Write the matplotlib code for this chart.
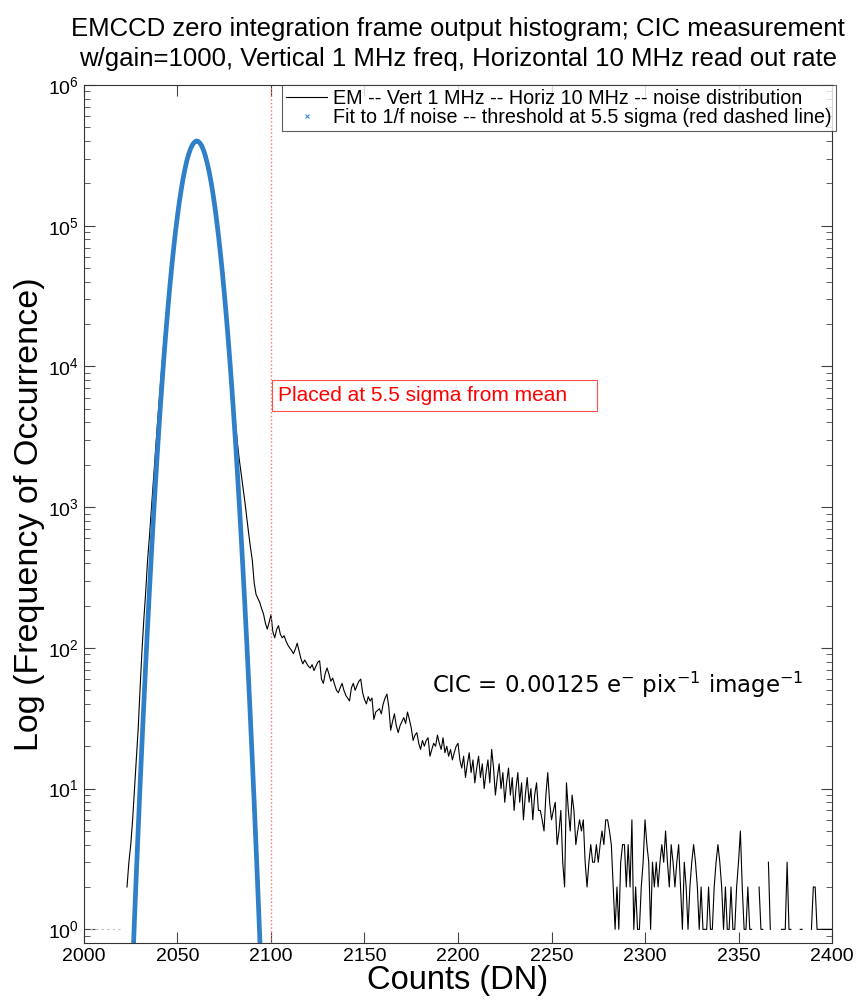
import numpy as np
import matplotlib
matplotlib.use('Agg')
import matplotlib.pyplot as plt
from matplotlib.lines import Line2D
from matplotlib.ticker import NullFormatter

# histogram of the zero-integration frame (counts per DN)
em_start = 2023
em_counts = [
    2, 3, 4, 6, 10, 17, 27, 52, 95, 160,
    250, 420, 620, 960, 1450, 2300, 3500, 5300, 7900, 11500,
    16500, 23000, 32000, 43500, 58000, 76000, 98000, 123000, 152000, 184000,
    218000, 253000, 288000, 320000, 349000, 372000, 388000, 396000, 396000, 386000,
    368000, 343000, 312000, 278000, 243000, 208000, 174000, 142000, 113000, 88000,
    67500, 50500, 37000, 26500, 18700, 13000, 8900, 5500, 4000, 2900,
    2200, 1750, 1400, 1100, 850, 660, 520, 420, 290, 240,
    225, 210, 190, 174, 150, 136, 152, 172, 130, 118,
    135, 144, 125, 118, 122, 112, 105, 100, 96, 91,
    98, 108, 95, 84, 77, 82, 78, 74, 72, 76,
    69, 74, 79, 81, 60, 56, 66, 72, 65, 58,
    61, 55, 50, 48, 52, 56, 50, 46, 44, 42,
    52, 56, 50, 54, 58, 60, 48, 43, 40, 45,
    42, 44, 31, 35, 36, 37, 34, 40, 44, 47,
    38, 26, 30, 34, 28, 25, 28, 30, 32, 29,
    35, 31, 27, 22, 24, 25, 21, 19, 22, 20,
    22, 23, 17, 19, 21, 20, 24, 21, 19, 23,
    18, 20, 17, 19, 16, 18, 20, 21, 16, 14,
    17, 12, 15, 18, 13, 16, 11, 14, 17, 12,
    15, 10, 13, 16, 11, 19, 14, 9, 12, 15,
    10, 13, 8, 11, 14, 9, 12, 7, 10, 13,
    8, 11, 6, 9, 12, 8, 10, 6, 9, 11,
    7, 7, 6, 5, 9, 13, 8, 6, 7, 8,
    4, 5, 7, 3, 2, 11, 7, 5, 9, 7,
    4, 5, 6, 5, 6, 3, 2, 3, 4, 3,
    3, 4, 3, 4, 5, 4, 6, 6, 5, 4,
    2, 1, 2, 1, 3, 4, 4, 2, 4, 2,
    6, 1, 2, 1, 1, 2, 3, 6, 4, 3,
    1, 3, 2, 3, 2, 3, 4, 3, 5, 3,
    2, 4, 3, 2, 3, 4, 2, 1, 3, 2,
    1, 2, 3, 4, 3, 2, 1, 2, 1, 1,
    1, 2, 1, 1, 2, 3, 4, 3, 2, 1,
    2, 1, 1, 2, 1, 1, 2, 3, 5, 2,
    1, 1, 2, 1, 1, np.nan, np.nan, np.nan, 2, 1,
    1, np.nan, np.nan, 3, 1, np.nan, np.nan, np.nan, np.nan, np.nan,
    1, 1, 1, 3, 1, 1, np.nan, np.nan, np.nan, np.nan,
    1, 1, np.nan, np.nan, np.nan, np.nan, 1, 2, 2, 1,
    1, 1, 1, 1, 1, 1, 1, 1,
]
em_dn = np.arange(em_start, em_start + len(em_counts))

# isolated single counts left of the peak
low_dn = [2003, 2021]
low_counts = [1, 1]

# fitted noise distribution (blue)
fit_start = 2026
fit_counts = [
    0.54, 1.18, 2.5, 5.2, 10.6, 20.9, 40.4, 76.8, 142, 257,
    454, 785, 1325, 2185, 3520, 5550, 8550, 12900, 18900, 27200,
    38200, 52500, 70400, 92300, 118000, 148000, 181000, 217000, 253000, 290000,
    323000, 353000, 376000, 392000, 400000, 398000, 387000, 368000, 342000, 310000,
    275000, 239000, 203000, 168000, 136000, 107000, 83100, 62800, 46400, 33500,
    23600, 16300, 11000, 7220, 4640, 2920, 1795, 1079, 633, 363,
    204, 112, 59.8, 31.2, 16.0, 7.97, 3.9, 1.86, 0.87, 0.40,
]
fit_dn = np.arange(fit_start, fit_start + len(fit_counts))

threshold = 2100
x_ticks = [2000, 2050, 2100, 2150, 2200, 2250, 2300, 2350, 2400]

plt.rcParams['font.family'] = ['Liberation Sans', 'DejaVu Sans']

fig = plt.figure(figsize=(8.58, 10.05), dpi=100)
ax = fig.add_axes([0.0979, 0.0617, 0.8718, 0.8537])

ax.plot(low_dn, low_counts, color='#bbbbbb', lw=0.8, ls=(0, (2, 3)))
ax.plot(em_dn, em_counts, color='black', lw=0.8)
ax.plot(fit_dn, fit_counts, color='#2f80c8', lw=3.4)
ax.axvline(threshold, color='#ff7070', lw=1, ls=':')

ax.set_yscale('log')
ax.set_xlim(2000, 2400)
ax.set_ylim(0.8, 1e6)
ax.set_xticks(x_ticks)
ax.yaxis.set_minor_formatter(NullFormatter())
ax.tick_params(which='both', direction='in', top=True, right=True,
               labelsize=14, color='#444444')
ax.tick_params(which='major', length=8)
ax.tick_params(which='minor', length=4)
for s in ax.spines.values():
    s.set_color('#333333')
    s.set_linewidth(0.8)

ax.set_title('EMCCD zero integration frame output histogram; CIC measurement\n'
             'w/gain=1000, Vertical 1 MHz freq, Horizontal 10 MHz read out rate',
             fontsize=18.5, pad=14, linespacing=1.3)
ax.set_xlabel('Counts (DN)', fontsize=23.5, labelpad=0)
ax.set_ylabel('Log (Frequency of Occurrence)', fontsize=24.5, labelpad=2)

handles = [Line2D([], [], color='black', lw=0.8),
           Line2D([], [], ls='none', marker='x', ms=3, mew=0.8, color='#3d8fd6')]
labels = ['EM -- Vert 1 MHz -- Horiz 10 MHz -- noise distribution',
          'Fit to 1/f noise -- threshold at 5.5 sigma (red dashed line)']
leg = ax.legend(handles, labels, loc='upper right', bbox_to_anchor=(1.005, 1.0),
                fontsize=14.2, frameon=True, fancybox=False, borderaxespad=0,
                handlelength=2.1, handletextpad=0.3, labelspacing=0.0,
                borderpad=0.2)
leg.get_frame().set_edgecolor('#333333')
leg.get_frame().set_linewidth(0.8)

ax.text(2104, 6200, 'Placed at 5.5 sigma from mean    ', color='red', fontsize=15,
        va='center', ha='left',
        bbox=dict(boxstyle='square,pad=0.3', fc='white', ec='#ff5050', lw=0.8))

ax.text(2186, 55, r'CIC = 0.00125 e$^{-}$ pix$^{-1}$ image$^{-1}$',
        fontsize=16.5, family='DejaVu Sans', va='center', ha='left')

fig.savefig('out.png', dpi=100)
